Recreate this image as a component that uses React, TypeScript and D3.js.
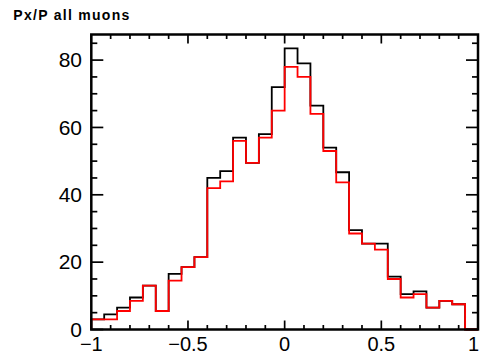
import * as d3 from "d3"

// histogram: 30 bins from -1 to 1
const xMin = -1
const xMax = 1
const nBins = 30

// all muons (black)
const allCounts = [
  3, 4.5, 6.5, 9.5, 13, 5.5, 16.5, 18.5, 21.5, 45, 47, 57, 49.5, 58, 72, 83.5, 79, 66.5, 54, 46.7, 29.5, 25.5,
  25.5, 15.7, 10.5, 11.3, 6.5, 8.5, 7.5, 0,
]
// second sample (red)
const redCounts = [
  3, 3, 5.5, 8.5, 13, 5.5, 14.5, 18.5, 21.5, 42, 44, 56, 49.5, 57, 65, 78, 75, 64, 53, 43.7, 28.5, 25.5, 23.7,
  15, 9.5, 10.5, 6.5, 8.5, 7.5, 0,
]

const xMajor = [-1, -0.5, 0, 0.5, 1]
const xLabels = ["\u22121", "\u22120.5", "0", "0.5", "1"]
const yMajor = [0, 20, 40, 60, 80]
const yLabels = ["0", "20", "40", "60", "80"]
const yTop = 87.6
const title = "Px/P all muons"

const font = "'Liberation Sans', Arial, Helvetica, sans-serif"

export default function App() {
  const width = 480
  const height = 355
  const left = 91.3
  const right = 478
  const top = 34.5
  const bottom = 329.5

  const x = d3.scaleLinear().domain([xMin, xMax]).range([left, right])
  const y = d3.scaleLinear().domain([0, yTop]).range([bottom, top])

  const binW = (xMax - xMin) / nBins

  const stepPath = (counts: number[]) => {
    const p = d3.path()
    p.moveTo(x(xMin), y(0))
    counts.forEach((c, i) => {
      p.lineTo(x(xMin + i * binW), y(c))
      p.lineTo(x(xMin + (i + 1) * binW), y(c))
    })
    p.lineTo(x(xMax), y(0))
    return p.toString()
  }

  const xMinor = d3.range(-10, 11).map((i) => i / 10).filter((v) => !xMajor.some((m) => Math.abs(m - v) < 1e-6))
  const yMinor = d3.range(0, 90, 5).filter((v) => v % 20 !== 0 && v < yTop)

  const xTickMaj = 9
  const xTickMin = 4.5
  const yTickMaj = 12
  const yTickMin = 6

  return (
    <svg
      width={width}
      height={height}
      style={{ position: "fixed", left: 0, top: 0, background: "#fff" }}
      fontFamily={font}
    >
      <rect width={width} height={height} fill="#fff" />
      <text x={13.3} y={20} fontSize={14} fontWeight="bold" textLength={116} lengthAdjust="spacing">
        {title}
      </text>

      {/* ticks bottom / top */}
      <g stroke="#000" strokeWidth={1.7}>
        {xMajor.map((v) => (
          <g key={"xm" + v}>
            <line x1={x(v)} x2={x(v)} y1={bottom} y2={bottom - xTickMaj} />
            <line x1={x(v)} x2={x(v)} y1={top} y2={top + xTickMaj} />
          </g>
        ))}
        {xMinor.map((v) => (
          <g key={"xn" + v}>
            <line x1={x(v)} x2={x(v)} y1={bottom} y2={bottom - xTickMin} />
            <line x1={x(v)} x2={x(v)} y1={top} y2={top + xTickMin} />
          </g>
        ))}
        {yMajor.map((v) => (
          <g key={"ym" + v}>
            <line x1={left} x2={left + yTickMaj} y1={y(v)} y2={y(v)} />
            <line x1={right} x2={right - yTickMaj} y1={y(v)} y2={y(v)} />
          </g>
        ))}
        {yMinor.map((v) => (
          <g key={"yn" + v}>
            <line x1={left} x2={left + yTickMin} y1={y(v)} y2={y(v)} />
            <line x1={right} x2={right - yTickMin} y1={y(v)} y2={y(v)} />
          </g>
        ))}
      </g>

      {/* histograms */}
      <path d={stepPath(allCounts)} fill="none" stroke="#000" strokeWidth={1.8} />
      <path d={stepPath(redCounts)} fill="none" stroke="#ff0000" strokeWidth={1.8} />

      {/* frame */}
      <rect x={left} y={top} width={right - left} height={bottom - top} fill="none" stroke="#000" strokeWidth={2.5} />

      {/* labels */}
      {yMajor.map((v, i) => (
        <text key={"yl" + v} x={82} y={y(v)} dy="0.35em" fontSize={21} textAnchor="end" fill="#000">
          {yLabels[i]}
        </text>
      ))}
      {xMajor.map((v, i) => {
        const last = i === xMajor.length - 1
        return (
          <text
            key={"xl" + v}
            x={last ? width - 1 : x(v)}
            y={350.5}
            fontSize={20}
            textAnchor={last ? "end" : "middle"}
            fill="#000"
          >
            {xLabels[i]}
          </text>
        )
      })}
    </svg>
  )
}
